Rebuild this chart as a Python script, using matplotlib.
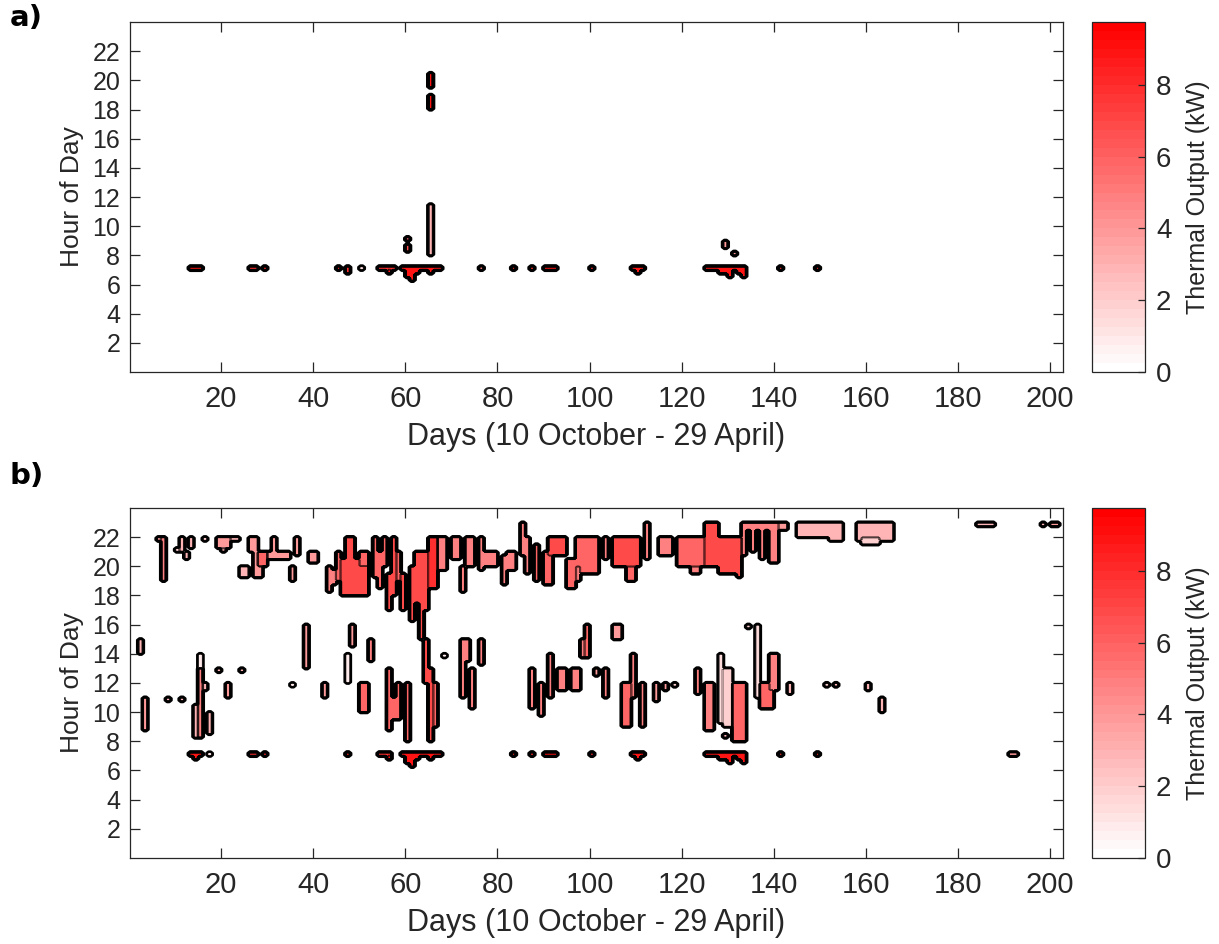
import numpy as np
import matplotlib
matplotlib.use('Agg')
import matplotlib.pyplot as plt

plt.rcParams['font.family'] = ['Liberation Sans', 'DejaVu Sans']
TXT = '#262626'

# runs of heat output: (day_from, day_to, hour_from, hour_to, kW)
morning_runs = [
    (13, 16, 7.0, 7.25, 9), (26, 28, 7.0, 7.25, 8), (29, 30, 7.0, 7.25, 8),
    (47, 48, 7.0, 7.25, 8),
    (54, 57, 7.0, 7.25, 8), (56, 57, 6.75, 7.0, 9),
    (59, 64, 7.0, 7.25, 9), (60, 63, 6.75, 7.0, 9), (60, 62, 6.5, 6.75, 9),
    (61, 62, 6.25, 6.5, 9),
    (64, 68, 7.0, 7.25, 9), (65, 66, 6.75, 7.0, 9),
    (83, 84, 7.0, 7.25, 8), (87, 88, 7.0, 7.25, 8), (90, 93, 7.0, 7.25, 9),
    (100, 101, 7.0, 7.25, 8),
    (109, 112, 7.0, 7.25, 9), (110, 111, 6.75, 7.0, 9),
    (125, 134, 7.0, 7.25, 9), (128, 131, 6.75, 7.0, 9), (132, 134, 6.75, 7.0, 9),
    (133, 134, 6.5, 6.75, 9), (130, 131, 6.5, 6.75, 9),
    (141, 142, 7.0, 7.25, 8), (149, 150, 7.0, 7.25, 8),
]

spike_runs_a = [
    (45, 46, 7.0, 7.25, 8), (47, 48, 6.75, 7.0, 8), (50, 51, 7.0, 7.25, 1.5),
    (57, 58, 7.0, 7.25, 8),
    (60, 61, 9.0, 9.25, 6), (60, 61, 8.25, 8.75, 7),
    (65, 66, 8.0, 11.5, 3), (65, 66, 19.5, 20.5, 9), (65, 66, 18.0, 19.0, 9),
    (76, 77, 7.0, 7.25, 5),
    (129, 130, 8.5, 9.0, 4), (131, 132, 8.0, 8.25, 4),
]

evening_runs = [
    (6, 8, 21.75, 22.0, 4), (7, 8, 19.0, 22.0, 5),
    (11, 12, 21.0, 22.0, 3), (13, 14, 21.25, 22.0, 3), (10, 11, 21.0, 21.25, 2),
    (12, 13, 20.5, 21.0, 3), (16, 17, 21.75, 22.0, 2),
    (19, 22, 21.25, 22.0, 4), (22, 24, 21.75, 22.0, 3), (20, 21, 21.0, 21.25, 3),
    (24, 26, 19.25, 20.0, 3), (26, 28, 21.0, 22.0, 4), (27, 29, 19.25, 21.0, 4),
    (28, 30, 20.0, 21.0, 6),
    (30, 35, 20.5, 21.0, 4), (31, 32, 20.5, 22.0, 4), (35, 36, 19.0, 20.0, 4),
    (36, 37, 20.75, 22.0, 4), (39, 41, 20.25, 21.0, 4),
    (43, 44, 18.25, 20.0, 5), (44, 45, 18.75, 19.75, 5),
    (45, 46, 19.0, 21.0, 6), (46, 52, 18.0, 20.5, 7), (47, 49, 20.5, 22.0, 7),
    (50, 52, 20.0, 21.0, 6),
    (53, 54, 19.25, 22.0, 6), (55, 56, 20.0, 22.0, 6), (54, 55, 18.5, 21.0, 6),
    (56, 57, 17.0, 19.5, 7), (57, 58, 18.0, 22.0, 7), (59, 60, 17.0, 19.5, 7),
    (58, 59, 19.0, 21.0, 6),
    (61, 62, 16.25, 20.0, 7), (62, 63, 17.5, 21.0, 7), (63, 64, 15.0, 21.0, 7),
    (64, 65, 17.0, 21.0, 7), (65, 67, 18.5, 22.0, 8),
    (67, 69, 19.75, 22.0, 5), (70, 72, 20.5, 22.0, 5),
    (72, 73, 18.25, 20.0, 5), (73, 75, 20.0, 22.0, 5),
    (76, 77, 19.75, 22.0, 5), (77, 80, 20.0, 21.0, 5),
    (81, 82, 18.75, 20.75, 5), (82, 84, 19.75, 21.0, 5),
    (85, 86, 20.75, 23.0, 5), (86, 87, 19.5, 22.0, 5), (88, 89, 19.0, 21.5, 6),
    (90, 92, 18.75, 21.0, 6), (91, 95, 20.75, 22.0, 7), (95, 97, 18.5, 20.5, 6),
    (97, 102, 19.5, 22.0, 6), (97, 98, 19.0, 20.0, 5), (103, 104, 20.5, 22.0, 5),
    (105, 111, 20.0, 22.0, 7), (108, 110, 19.0, 20.0, 6),
    (112, 113, 20.5, 23.0, 5), (115, 118, 20.75, 22.0, 5),
    (119, 125, 20.0, 22.0, 6), (122, 124, 19.5, 20.0, 5),
    (125, 128, 20.0, 23.0, 7), (128, 133, 19.5, 22.0, 7),
    (132, 133, 19.25, 21.0, 7), (130, 131, 19.5, 21.0, 7),
    (133, 134, 20.75, 23.0, 5), (135, 136, 21.0, 23.0, 5), (137, 138, 20.5, 23.0, 5),
    (139, 141, 20.25, 23.0, 5), (133, 141, 22.5, 23.0, 5), (141, 143, 22.5, 23.0, 4),
    (145, 152, 22.0, 23.0, 3), (152, 155, 21.75, 23.0, 3),
    (158, 166, 21.75, 23.0, 3), (159, 163, 21.5, 22.0, 2),
    (184, 188, 22.75, 23.0, 3), (198, 199, 22.75, 23.0, 3), (200, 202, 22.75, 23.0, 4),
]

midday_runs = [
    (14, 15, 6.75, 7.0, 9), (17, 18, 7.0, 7.25, 1), (191, 193, 7.0, 7.25, 4),
    (2, 3, 14.0, 15.0, 3), (3, 4, 8.75, 11.0, 4), (8, 9, 10.75, 11.0, 3),
    (11, 12, 10.75, 11.0, 3), (15, 16, 8.25, 13.0, 5), (15, 16, 13.0, 14.0, 1),
    (14, 15, 8.25, 10.5, 3),
    (16, 17, 11.5, 12.0, 3), (17, 18, 8.5, 10.0, 3), (19, 20, 12.75, 13.0, 3),
    (24, 25, 12.75, 13.0, 3), (21, 22, 11.0, 12.0, 4), (35, 36, 11.75, 12.0, 1),
    (38, 39, 13.0, 16.0, 4), (42, 43, 11.0, 12.0, 4), (47, 48, 12.0, 14.0, 1),
    (48, 49, 14.5, 16.0, 4), (50, 52, 10.0, 12.0, 6), (52, 53, 13.5, 15.0, 5),
    (56, 57, 8.75, 13.0, 6), (58, 59, 9.5, 12.0, 6), (57, 58, 9.5, 11.0, 6),
    (60, 61, 8.0, 12.0, 6), (64, 65, 12.0, 15.0, 7), (65, 66, 8.0, 13.0, 7),
    (66, 67, 9.0, 12.0, 6), (68, 69, 13.75, 14.0, 1),
    (72, 73, 11.0, 15.0, 5), (73, 74, 13.5, 15.0, 5), (74, 75, 10.25, 13.0, 5),
    (76, 77, 13.25, 15.0, 5), (87, 88, 10.25, 13.0, 5), (89, 90, 9.75, 12.0, 5),
    (91, 92, 11.0, 14.0, 5), (93, 95, 11.5, 13.0, 5), (96, 98, 11.5, 13.0, 5),
    (98, 99, 13.75, 15.0, 5), (99, 100, 13.75, 16.0, 6), (101, 102, 12.5, 13.0, 4),
    (103, 104, 11.0, 13.0, 5), (105, 107, 15.0, 16.0, 4),
    (107, 109, 9.0, 12.0, 6), (109, 110, 11.0, 14.0, 5), (111, 112, 9.0, 12.0, 5),
    (114, 115, 10.75, 12.0, 4), (116, 117, 11.5, 12.0, 4), (118, 119, 11.75, 12.0, 2),
    (123, 124, 11.25, 13.0, 5), (125, 127, 8.75, 12.0, 5), (128, 129, 9.25, 14.0, 1.5),
    (129, 130, 8.25, 8.5, 3), (129, 131, 9.0, 13.0, 2), (131, 134, 8.0, 12.0, 6),
    (134, 135, 15.75, 16.0, 2), (136, 137, 11.0, 16.0, 1.5),
    (137, 140, 10.25, 12.0, 6), (139, 141, 11.5, 14.0, 5), (143, 144, 11.25, 12.0, 3),
    (151, 152, 11.75, 12.0, 2), (153, 154, 11.75, 12.0, 3), (160, 161, 11.5, 12.0, 3),
    (163, 164, 10.0, 11.0, 3),
]

day_c = np.arange(0.5, 203, 1.0)
hour_c = np.arange(0.125, 24, 0.25)
levels = np.linspace(0, 9.75, 40)
# white -> red bands, lowest band pure white
fill_colors = [(1.0, 1.0 - t, 1.0 - t) for t in np.linspace(0, 1, len(levels) - 1)]
K = 2  # sub-samples per cell, keeps outlines close to the cell edges


def build_grid(runs):
    z = np.zeros((len(hour_c), len(day_c)))
    for d0, d1, h0, h1, v in runs:
        rows = (hour_c >= h0) & (hour_c < h1)
        cols = (day_c >= d0) & (day_c < d1)
        z[np.ix_(rows, cols)] = v
    zf = np.repeat(np.repeat(z, K, axis=0), K, axis=1)
    xf = np.repeat(day_c - 0.5, K) + np.tile((np.arange(K) + 0.5) / K, len(day_c))
    yf = np.repeat(hour_c - 0.125, K) + np.tile((np.arange(K) + 0.5) * 0.25 / K, len(hour_c))
    return xf, yf, zf


def draw_panel(fig, rect, cbar_rect, runs, tag, tag_y):
    xf, yf, zf = build_grid(runs)
    ax = fig.add_axes(rect)
    cf = ax.contourf(xf, yf, zf, levels=levels, colors=fill_colors)
    ax.contour(xf, yf, zf, levels=levels[1:], colors='k', linewidths=0.3)
    ax.contour(xf, yf, zf, levels=[0.15], colors='k', linewidths=1.8)
    ax.set_xlim(0.2, 202.8)
    ax.set_ylim(0, 24)
    ax.set_xticks(np.arange(20, 201, 20))
    ax.set_yticks(np.arange(2, 23, 2))
    ax.tick_params(direction='in', length=7, width=0.9, top=True, right=True,
                   colors=TXT)
    ax.tick_params(axis='x', labelsize=21, pad=9)
    ax.tick_params(axis='y', labelsize=18, pad=7)
    for s in ax.spines.values():
        s.set_color(TXT)
        s.set_linewidth(0.9)
    ax.set_xlabel('Days (10 October - 29 April)', fontsize=22, color=TXT, labelpad=7)
    ax.set_ylabel('Hour of Day', fontsize=19, color=TXT, labelpad=6)
    fig.text(0.008, tag_y, tag, fontsize=21, fontweight='bold',
             family='DejaVu Sans', ha='left', va='top')

    cax = fig.add_axes(cbar_rect)
    cb = fig.colorbar(cf, cax=cax, ticks=[0, 2, 4, 6, 8])
    cb.outline.set_edgecolor(TXT)
    cb.outline.set_linewidth(0.9)
    cax.tick_params(direction='in', length=5, width=0.9, labelsize=20, colors=TXT, pad=8)
    cb.set_label('Thermal Output (kW)', fontsize=18, color=TXT, labelpad=10)
    return ax


fig = plt.figure(figsize=(12.19, 9.44), dpi=100)
draw_panel(fig, [0.1066, 0.6059, 0.7654, 0.3708], [0.8958, 0.6059, 0.0435, 0.3708],
           morning_runs + spike_runs_a, 'a)', 1 - 4 / 944)
draw_panel(fig, [0.1066, 0.0911, 0.7654, 0.3708], [0.8958, 0.0911, 0.0435, 0.3708],
           morning_runs + evening_runs + midday_runs, 'b)', 1 - 462 / 944)
fig.savefig('out.png', dpi=100)
